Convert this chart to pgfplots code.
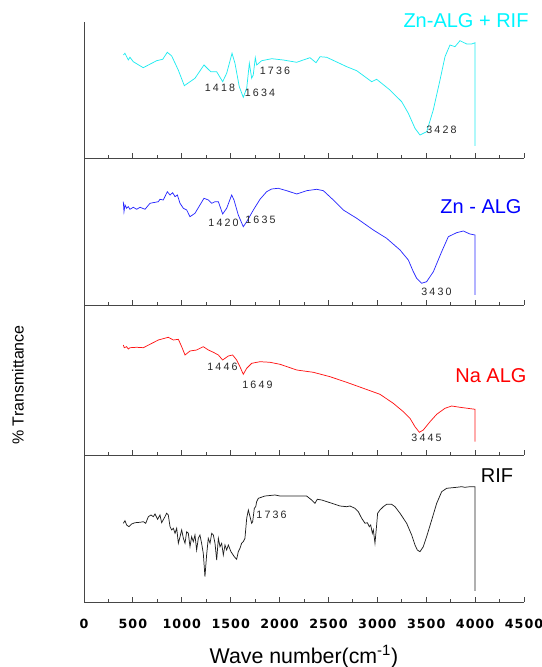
\documentclass[border=0pt]{standalone}
\usepackage{fontspec}
\setmainfont{Liberation Sans}
\newfontfamily\tickfont[LetterSpace=8]{DejaVu Sans}
\newfontfamily\peakfont[LetterSpace=20]{Liberation Sans}
\usepackage{pgfplots}
\pgfplotsset{compat=1.18}
\definecolor{cZnRif}{RGB}{30,235,240}
\definecolor{cZnRifTxt}{RGB}{0,245,255}
\definecolor{cZn}{RGB}{40,40,255}
\definecolor{cNa}{RGB}{255,20,20}
\definecolor{cRif}{RGB}{30,30,30}
\definecolor{axgray}{RGB}{70,70,70}
\pgfplotsset{
  panel/.style={
    scale only axis, width=330pt,
    xmin=0, xmax=4500,
    axis x line*=bottom, axis y line*=left,
    ytick=\empty,
    xtick={0,500,...,4500},
    minor xtick={250,750,...,4250},
    xtick align=inside,
    major tick length=3.75pt, minor tick length=2.25pt,
    xticklabels=\empty,
    clip=false,
    axis line style={line width=0.6pt, axgray},
    every tick/.style={line width=0.6pt, axgray},
    anchor=south west,
  },
}
\tikzset{
  peak/.style={font=\peakfont\fontsize{8pt}{9pt}\selectfont, text=black!85, inner sep=0pt},
  plab/.style={font=\fontsize{15pt}{18pt}\selectfont, inner sep=0pt},
}
\begin{document}
\begin{tikzpicture}
\useasboundingbox (0,0) rectangle (406.5pt,500.25pt);

% ---------- Panel 4 : RIF ----------
\begin{axis}[panel, at={(63pt,48.75pt)}, height=110.25pt, ymin=0, ymax=147,
  xticklabels={0,500,1000,1500,2000,2500,3000,3500,4000,4500},
  xticklabel style={font=\tickfont\bfseries\fontsize{9.5pt}{10pt}\selectfont, yshift=-9.5pt},
  xlabel={Wave number(cm\textsuperscript{-1})},
  xlabel style={font=\fontsize{16pt}{19pt}\selectfont, yshift=-5pt},
]
\addplot[cRif, line width=0.55pt] coordinates {
(402,78.7)(419,81.3)(436,77)(460,75.3)(487,78)(522,79.3)(573,79.7)(607,80.3)(631,78.7)
(658,85.3)(685,87)(709,85.3)(726,88)(753,82.7)(777,87)(794,79.3)(828,85.3)(845,88.7)
(862,87)(880,75.3)(897,72)(914,73.7)(931,68.7)(948,73.7)(965,58.7)(982,65.3)(999,72)
(1016,63.7)(1033,58.7)(1050,70.3)(1067,68.7)(1084,55.3)(1101,65.3)(1118,60.3)(1135,67)
(1152,52)(1169,63.7)(1186,67)(1203,58.7)(1220,48.7)(1237,25.3)(1254,47)(1271,63.7)
(1289,58.7)(1306,68.7)(1323,67)(1340,58.7)(1357,42)(1374,63.7)(1391,55.3)(1408,58.7)
(1425,47)(1442,57)(1459,52)(1476,57)(1503,50.3)(1537,45.3)(1561,42.7)(1578,50.3)
(1595,53.7)(1612,58.7)(1629,60.3)(1646,63.7)(1664,83.7)(1681,92)(1698,85.3)(1715,78.7)
(1725,80.3)(1742,93.7)(1756,95.3)(1766,100.3)(1783,103.7)(1851,106)(1953,107)(2004,106)
(2277,106)(2328,102)(2362,98.7)(2386,102.7)(2431,102)(2516,99.3)(2618,96)(2686,95.3)
(2720,96)(2771,93.7)(2806,90.3)(2840,83.7)(2874,78.7)(2898,79.3)(2918,75.3)(2932,77)
(2949,68.7)(2959,72)(2976,58.7)(2993,77)(3003,88.7)(3027,92)(3061,95.3)(3095,97.7)
(3146,97.7)(3181,95.3)(3232,88.7)(3300,78.7)(3351,67)(3385,57)(3409,52)(3436,50.3)
(3470,55.3)(3504,65.3)(3556,82)(3607,98.7)(3658,110.3)(3709,113.7)(3811,114.7)
(3862,115.3)(3896,114.7)(3948,115.3)(4000,115.3)(4000,11)
};
\node[peak] at (axis cs:1918,87) {1736};
\node[plab, text=black] at (axis cs:4224,126) {RIF};
\end{axis}

% ---------- Panel 3 : Na ALG ----------
\begin{axis}[panel, at={(63pt,159pt)}, height=112.5pt, ymin=147, ymax=297]
\addplot[cNa, line width=0.55pt] coordinates {
(402,257)(412,254.3)(436,255.3)(453,253)(470,254.3)(539,254.7)(607,254.3)(675,257.7)
(760,262)(862,264.7)(914,262)(965,262.7)(999,255.3)(1033,247)(1084,251)(1152,252)
(1220,255.3)(1272,252)(1323,249.7)(1374,247)(1418,242)(1476,246)(1520,247)(1561,242)
(1595,235.3)(1629,227.7)(1664,233.7)(1715,238.7)(1800,240.3)(1902,239.7)(2005,237.7)
(2175,232)(2345,229.7)(2516,225.3)(2686,219.7)(2857,213.7)(3027,207.7)(3163,198.7)
(3266,190.3)(3334,183.7)(3385,175.3)(3430,169.7)(3470,172)(3539,180.3)(3607,187.7)
(3692,193.7)(3760,196)(3845,194.7)(4000,192.7)(4000,160.3)
};
\node[peak] at (axis cs:1416,235) {1446};
\node[peak] at (axis cs:1774,217) {1649};
\node[peak] at (axis cs:3503,164) {3445};
\node[plab, text=red] at (axis cs:4162,226) {Na ALG};
\end{axis}
\node[rotate=90, font=\fontsize{12pt}{14pt}\selectfont] at (13.5pt,211.5pt) {\% Transmittance};

% ---------- Panel 2 : Zn - ALG ----------
\begin{axis}[panel, at={(63pt,271.5pt)}, height=110.25pt, ymin=297, ymax=444]
\addplot[cZn, line width=0.55pt] coordinates {
(402,400.3)(409,390.3)(419,397)(436,393.7)(453,395.3)(470,392.7)(504,394.7)(539,392.7)
(573,394.7)(624,392.7)(675,398.7)(760,400.3)(777,402.7)(811,402)(852,410.3)(880,407)
(907,409.3)(931,405.3)(955,407)(982,398.7)(1016,393.7)(1050,392)(1084,385.3)(1135,388.7)
(1186,397)(1227,403.7)(1272,402)(1306,398.7)(1340,400.3)(1374,400.3)(1418,388)(1459,393.7)
(1510,407)(1534,402)(1578,387)(1629,375.3)(1664,380.3)(1732,392)(1800,402.7)(1868,410.3)
(1919,413)(1987,413.7)(2073,411.3)(2175,408)(2277,411.3)(2380,412.7)(2448,411.3)
(2550,402)(2652,392)(2789,383.7)(2959,372)(3095,363.7)(3232,352)(3317,342)(3368,330.3)
(3402,323.7)(3453,318.7)(3504,320.3)(3573,330.3)(3658,350.3)(3726,365.3)(3811,369.3)
(3879,371)(3947,368)(4000,367)(4000,307)
};
\node[peak] at (axis cs:1427,379) {1420};
\node[peak] at (axis cs:1805,382) {1635};
\node[peak] at (axis cs:3605,310) {3430};
\node[plab, text=blue] at (axis cs:4060,395) {Zn - ALG};
\end{axis}

% ---------- Panel 1 : Zn-ALG + RIF ----------
\begin{axis}[panel, at={(63pt,381.75pt)}, height=102pt, ymin=444, ymax=580]
\addplot[cZnRif, line width=0.55pt] coordinates {
(402,547)(419,548.7)(453,542)(470,544.7)(504,540.3)(606,534.3)(743,541.3)(805,542.7)
(852,549.7)(897,546)(964,532)(1026,516.3)(1135,523.7)(1227,537)(1296,530.3)(1357,530.3)
(1418,520.3)(1459,528.7)(1514,548.7)(1544,538.7)(1588,515.3)(1629,504.7)(1664,513.7)
(1691,538.7)(1715,523.7)(1731,527)(1752,544.3)(1766,537)(1817,541.3)(1920,543.3)
(2038,542)(2175,539.7)(2311,544.3)(2373,539.3)(2414,545.3)(2482,544.7)(2687,535.3)
(2789,531.3)(2942,520.3)(2993,522.7)(3129,512)(3249,500.3)(3317,488.7)(3385,473.7)
(3436,467)(3505,470.3)(3572,492)(3641,522)(3692,545.3)(3743,557)(3794,555.3)(3845,561.3)
(3914,558)(3965,558)(4000,559.3)(4000,456)
};
\node[peak] at (axis cs:1391,514) {1418};
\node[peak] at (axis cs:1800,509) {1634};
\node[peak] at (axis cs:1953,531) {1736};
\node[peak] at (axis cs:3656,472) {3428};
\node[plab, text=cZnRifTxt] at (axis cs:3907,581) {Zn-ALG + RIF};
\end{axis}
\end{tikzpicture}
\end{document}
